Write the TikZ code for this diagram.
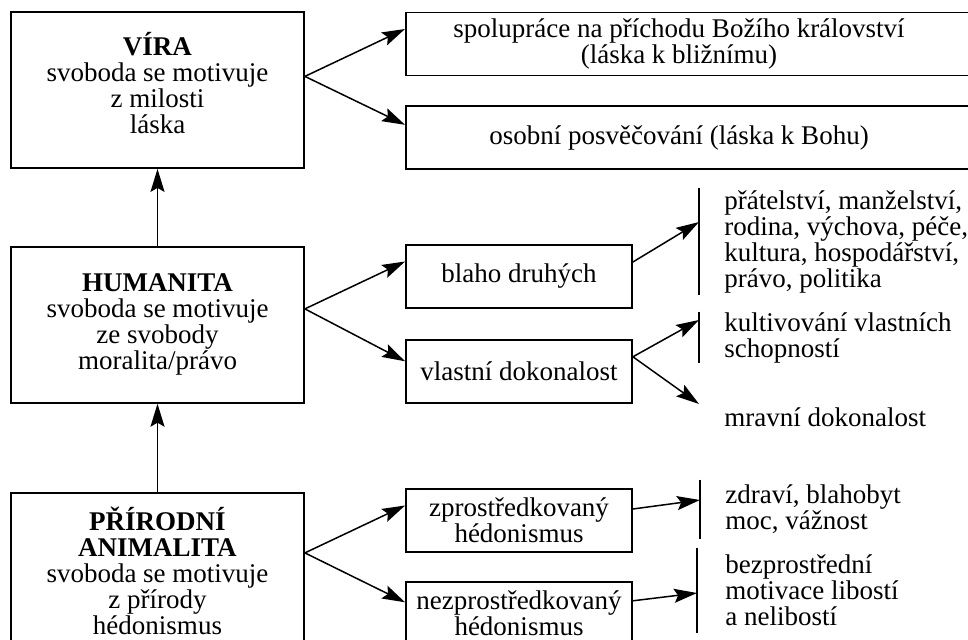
\documentclass[tikz,border=0pt]{standalone}
\usepackage{fontspec}
\setmainfont{Liberation Serif}
\usetikzlibrary{arrows.meta,positioning}

\begin{document}
\begin{tikzpicture}[x=0.5pt, y=-0.5pt,
  font=\fontsize{13.5}{13}\selectfont,
  lvl/.style={draw, line width=0.9pt, align=center, minimum width=146.5pt, minimum height=78pt, inner sep=2pt},
  sub/.style={draw, line width=0.9pt, align=center, minimum width=113pt, minimum height=31.5pt, inner sep=2pt},
  wide/.style={draw, line width=0.9pt, minimum width=290pt, minimum height=31.5pt, anchor=west},
  lst/.style={align=left, anchor=west, inner xsep=12.5pt, inner ysep=0pt},
  divider/.style={line width=0.75pt},
  arr/.style={-{Stealth[length=11.5pt, width=7pt, inset=2pt]}, line width=0.75pt}]
\clip (0,0) rectangle (968,640);
\node[lvl, text depth=7pt] (vira) at (157.5,90) {\textbf{VÍRA}\\svoboda se motivuje\\z milosti\\láska};
\node[lvl, below=38.5pt of vira] (huma) {\textbf{HUMANITA}\\svoboda se motivuje\\ze svobody\\moralita/právo};
\node[lvl, below=44pt of huma] (anim) {\textbf{PŘÍRODNÍ}\\\textbf{ANIMALITA}\\svoboda se motivuje\\z přírody\\hédonismus};
\node[wide] (coopbox) at (405,44) {};
\node (coop) at (679,44) [align=center] {spolupráce na příchodu Božího království\\(láska k bližnímu)};
\node[wide, below=14.5pt of coopbox] (pietybox) {};
\node (piety) at (pietybox.center -| coop) {osobní posvěčování (láska k Bohu)};
\node[sub] (blaho) at (519,276.5) {blaho druhých};
\node[sub, below=15pt of blaho] (vlast) {vlastní dokonalost};
\node[sub] (zpros) at (519,520.5) {zprostředkovaný\\hédonismus};
\node[sub, below=14pt of zpros] (nezpros) {nezprostředkovaný\\hédonismus};
\node[lst, minimum height=53.5pt] (fam) at (699,241.5) {přátelství, manželství,\\rodina, výchova, péče,\\kultura, hospodářství,\\právo, politika};
\node[lst, minimum height=25.5pt] (kult) at (699,337.5) {kultivování vlastních\\schopností};
\node[lst] (mravni) at (699,417) {mravní dokonalost};
\node[lst, minimum height=29.5pt] (zdravi) at (700,509.5) {zdraví, blahobyt\\moc, vážnost};
\node[lst, inner xsep=14pt, minimum height=42.5pt] (bezpr) at (697,590.5) {bezprostřední\\motivace libostí\\a nelibostí};
\draw[divider] (fam.north west) -- (fam.south west);
\draw[divider] (kult.north west) -- (kult.south west);
\draw[divider] (zdravi.north west) -- (zdravi.south west);
\draw[divider] (bezpr.north west) -- (bezpr.south west);
\draw[arr] (huma.north) -- (vira.south);
\draw[arr] (anim.north) -- (huma.south);
\coordinate (fv) at (vira.east |- coopbox.south);
\draw[arr] (fv) -- ([yshift=7.5pt]coopbox.west);
\draw[arr] (fv) -- ([yshift=6.5pt]pietybox.west);
\coordinate (fh) at (huma.east |- blaho.south);
\draw[arr] (fh) -- ([yshift=7.5pt]blaho.west);
\draw[arr] (fh) -- ([yshift=5pt]vlast.west);
\coordinate (fa) at (anim.east |- zpros.south);
\draw[arr] (fa) -- ([yshift=7.5pt]zpros.west);
\draw[arr] (fa) -- ([yshift=5.5pt]nezpros.west);
\draw[arr] ([yshift=7.25pt]blaho.east) -- ([yshift=9.75pt]fam.west);
\draw[arr] ([yshift=7.25pt]vlast.east) -- ([yshift=8.75pt]kult.west);
\draw[arr] ([yshift=7.25pt]vlast.east) -- ([yshift=6.5pt]mravni.west);
\draw[arr] ([yshift=5.75pt]zpros.east) -- ([yshift=4.75pt]zdravi.west);
\draw[arr] ([yshift=6.25pt]nezpros.east) -- ([yshift=-1.25pt]bezpr.west);
\end{tikzpicture}
\end{document}
